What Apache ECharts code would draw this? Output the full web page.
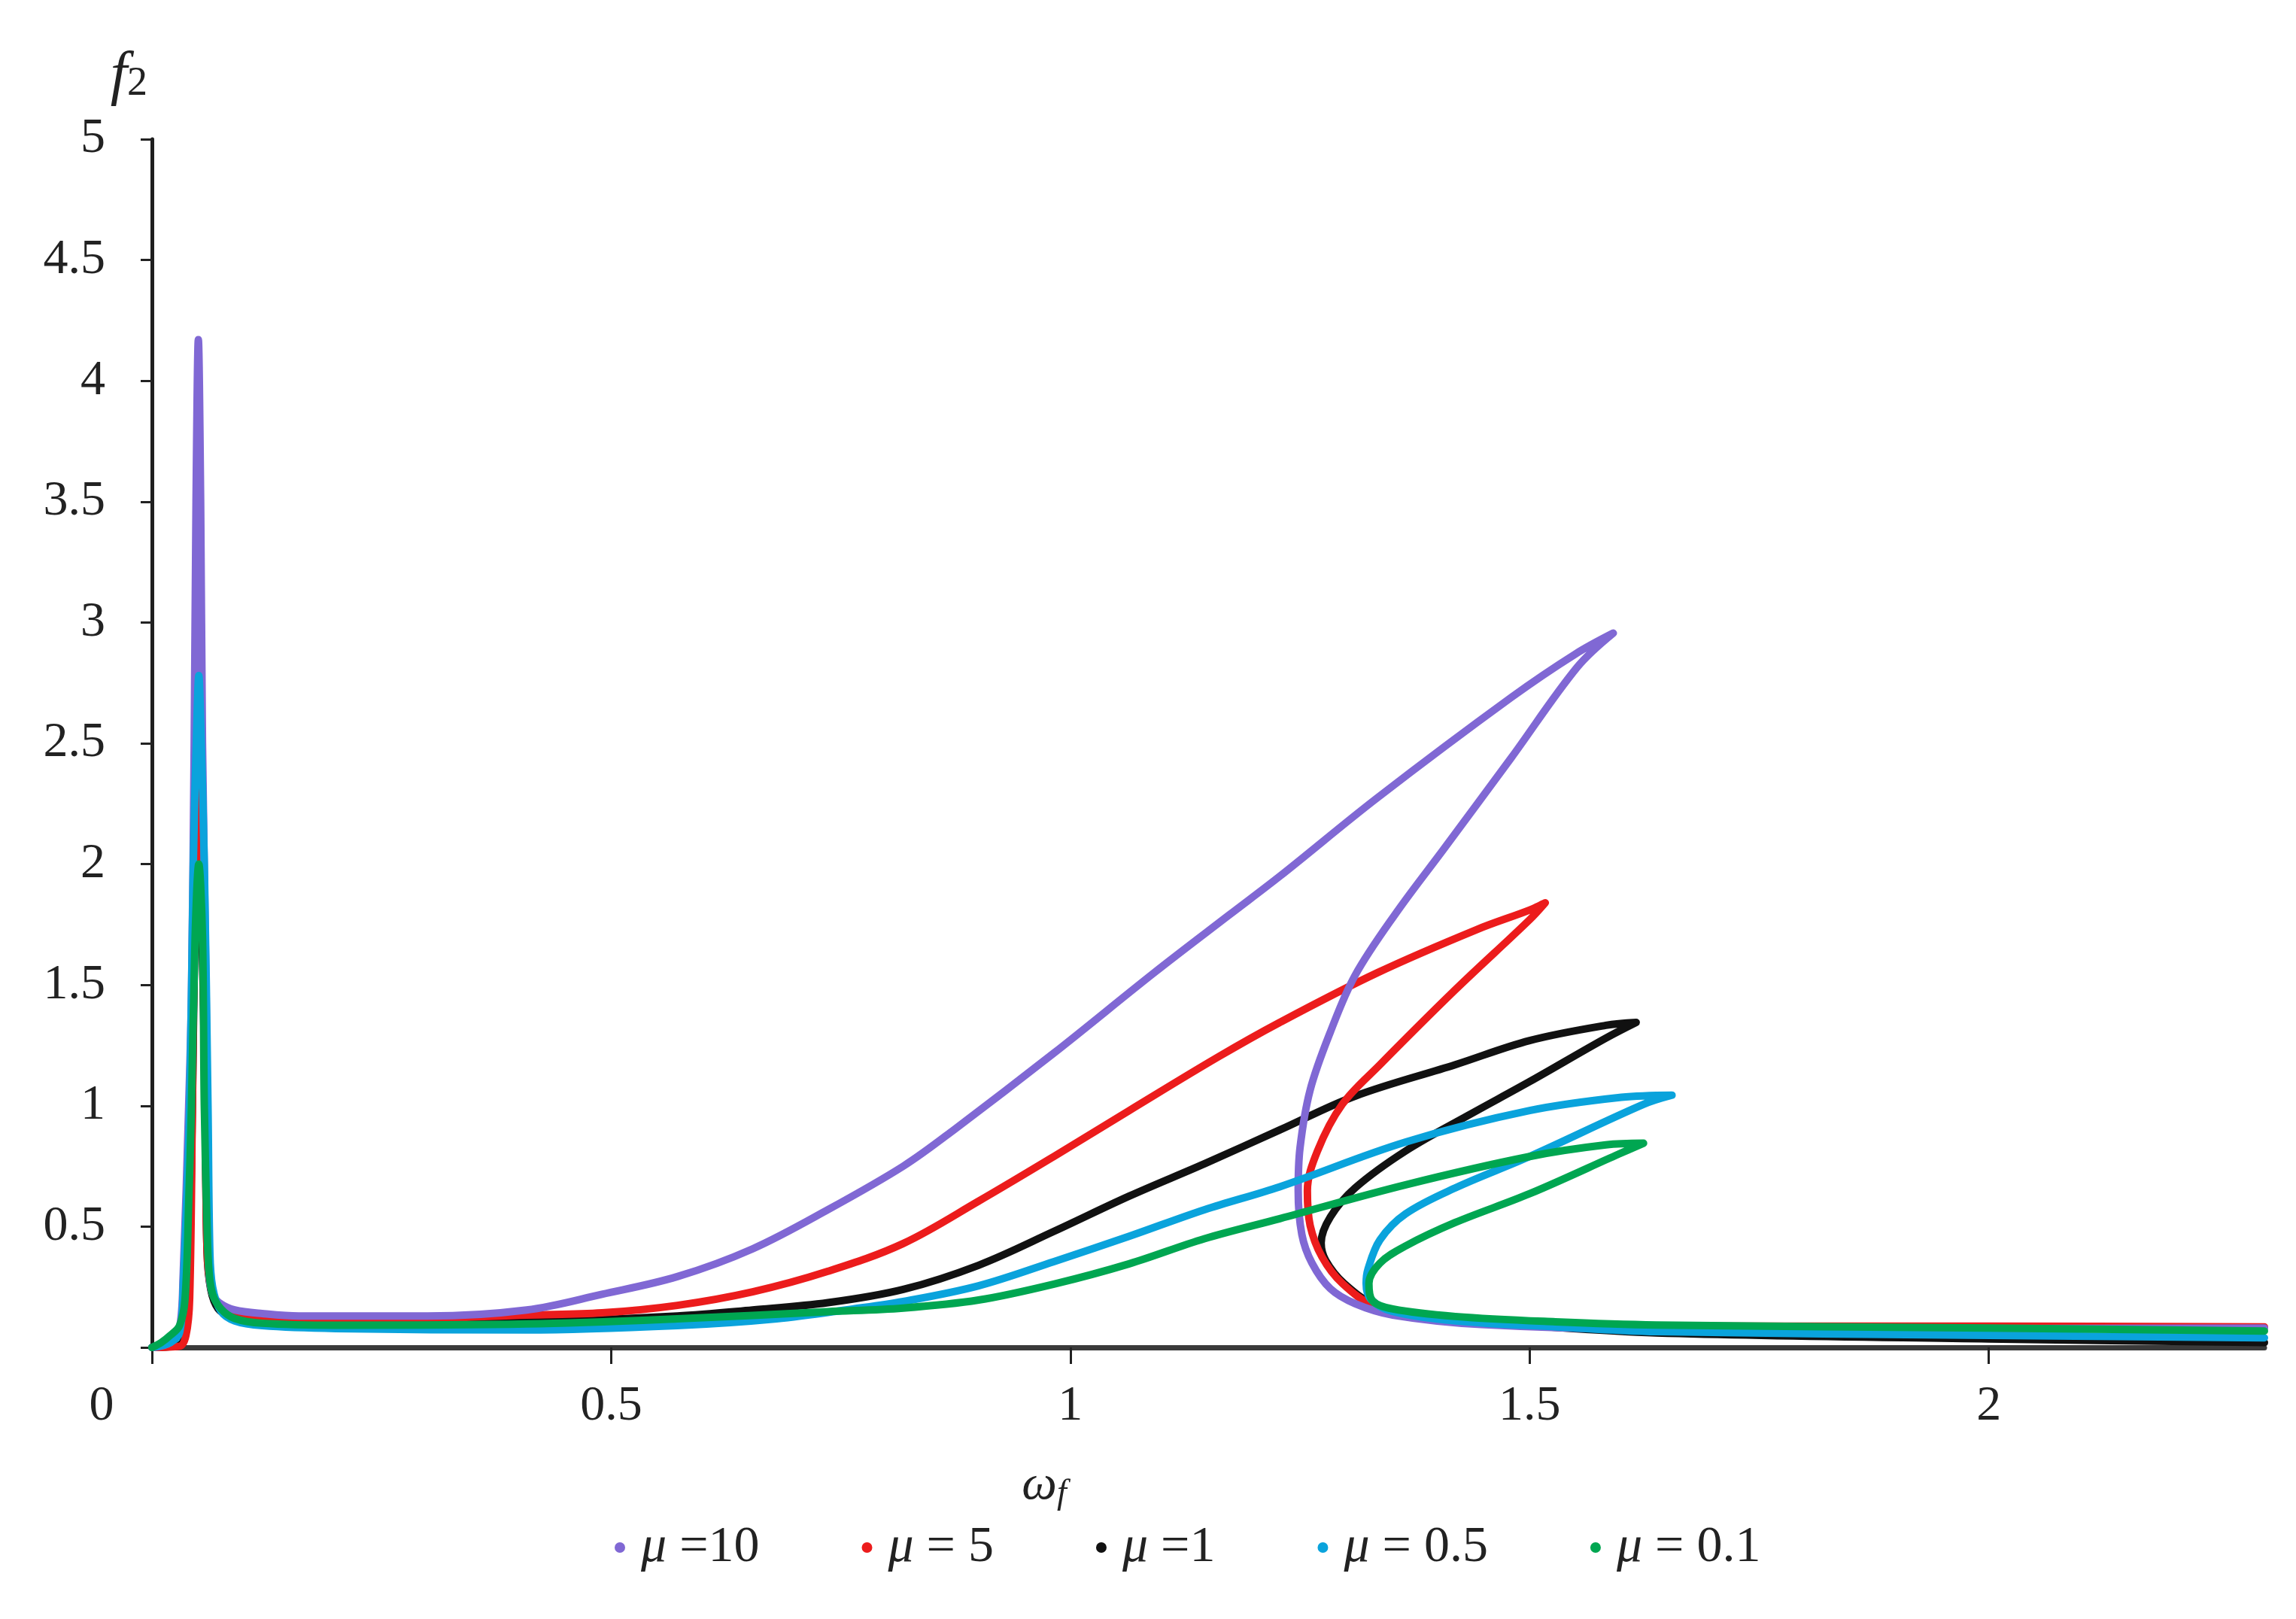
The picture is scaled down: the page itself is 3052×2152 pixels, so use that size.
<!DOCTYPE html>
<html>
<head>
<meta charset="utf-8">
<script src="https://cdn.jsdelivr.net/npm/echarts@6/dist/echarts.min.js"></script>
<style>
html,body{margin:0;padding:0;background:#fff;}
#chart{width:3052px;height:2152px;}
</style>
</head>
<body>
<div id="chart"></div>
<script>
// ---- data (omega_f, f2) ----
const legendNames = ['μ =10', 'μ = 5', 'μ =1', 'μ = 0.5', 'μ = 0.1'];
const xTickValues = [0, 0.5, 1, 1.5, 2];

const mu10 = [[0,0.0],[0.02,0.02],[0.03,0.08],[0.034,0.3],[0.04,1.0],[0.043,1.45],[0.046,2.5],[0.048,3.5],[0.0505,4.17],[0.053,3.5],[0.055,2.5],[0.059,1.45],[0.061,0.6],[0.062,0.32],[0.066,0.22],[0.075,0.18],[0.09,0.155],[0.12,0.14],[0.16,0.13],[0.3,0.13],[0.408,0.155],[0.49,0.22],[0.572,0.293],[0.654,0.408],[0.736,0.57],[0.818,0.75],[0.873,0.9],[0.982,1.218],[1.091,1.55],[1.173,1.79],[1.228,1.95],[1.334,2.274],[1.48,2.69],[1.55,2.87],[1.591,2.956],[1.552,2.816],[1.48,2.44],[1.407,2.065],[1.355,1.80],[1.31,1.54],[1.283,1.305],[1.261,1.065],[1.25,0.826],[1.248,0.648],[1.252,0.467],[1.263,0.349],[1.283,0.243],[1.31,0.181],[1.351,0.134],[1.447,0.095],[1.638,0.075],[2.0,0.078],[2.3,0.08]];

const mu5 = [[0,0.0],[0.03,0.005],[0.037,0.05],[0.041,0.2],[0.044,1.0],[0.047,2.0],[0.0505,2.5],[0.054,2.0],[0.058,1.0],[0.06,0.4],[0.064,0.25],[0.072,0.18],[0.085,0.15],[0.11,0.13],[0.2,0.118],[0.3,0.12],[0.408,0.134],[0.49,0.143],[0.572,0.174],[0.654,0.23],[0.736,0.315],[0.818,0.43],[0.9,0.605],[0.982,0.79],[1.064,0.98],[1.16,1.2],[1.228,1.345],[1.334,1.55],[1.443,1.73],[1.5,1.81],[1.517,1.84],[1.5,1.77],[1.419,1.48],[1.337,1.17],[1.296,1.006],[1.269,0.813],[1.258,0.648],[1.261,0.505],[1.274,0.374],[1.296,0.265],[1.332,0.171],[1.4,0.125],[1.5,0.1],[1.7,0.088],[2.0,0.088],[2.3,0.085]];

const mu1 = [[0,0.0],[0.03,0.01],[0.036,0.06],[0.04,0.25],[0.044,1.0],[0.047,1.8],[0.0505,2.2],[0.054,1.8],[0.058,1.0],[0.06,0.4],[0.064,0.24],[0.072,0.16],[0.085,0.13],[0.11,0.11],[0.2,0.1],[0.4,0.105],[0.572,0.13],[0.654,0.155],[0.736,0.185],[0.818,0.24],[0.9,0.34],[0.982,0.48],[1.064,0.626],[1.146,0.76],[1.228,0.9],[1.31,1.04],[1.419,1.17],[1.5,1.27],[1.583,1.333],[1.616,1.345],[1.583,1.28],[1.5,1.10],[1.433,0.96],[1.365,0.813],[1.31,0.66],[1.283,0.54],[1.273,0.433],[1.278,0.36],[1.298,0.265],[1.334,0.172],[1.4,0.12],[1.5,0.09],[1.638,0.06],[2.0,0.035],[2.3,0.02]];

const mu05 = [[0,0.0],[0.02,0.02],[0.03,0.06],[0.034,0.25],[0.041,1.0],[0.045,2.0],[0.049,2.6],[0.051,2.78],[0.053,2.6],[0.057,2.0],[0.061,1.0],[0.063,0.4],[0.066,0.25],[0.075,0.15],[0.09,0.11],[0.12,0.09],[0.2,0.078],[0.408,0.072],[0.572,0.09],[0.68,0.118],[0.763,0.159],[0.818,0.19],[0.9,0.255],[0.982,0.355],[1.064,0.46],[1.146,0.57],[1.228,0.665],[1.365,0.85],[1.5,0.98],[1.6,1.035],[1.655,1.044],[1.624,1.006],[1.5,0.79],[1.419,0.66],[1.365,0.553],[1.337,0.445],[1.324,0.324],[1.322,0.265],[1.327,0.2],[1.35,0.15],[1.42,0.11],[1.53,0.085],[1.638,0.065],[2.0,0.05],[2.3,0.04]];

const mu01 = [[0,0.0],[0.01,0.02],[0.02,0.05],[0.03,0.09],[0.036,0.2],[0.04,0.6],[0.043,1.0],[0.047,1.7],[0.051,2.0],[0.055,1.7],[0.057,1.0],[0.06,0.5],[0.062,0.32],[0.066,0.22],[0.075,0.16],[0.09,0.12],[0.12,0.1],[0.2,0.092],[0.408,0.097],[0.572,0.118],[0.736,0.148],[0.818,0.163],[0.9,0.196],[0.982,0.262],[1.064,0.346],[1.146,0.45],[1.228,0.533],[1.365,0.673],[1.5,0.79],[1.583,0.838],[1.624,0.845],[1.597,0.80],[1.5,0.636],[1.419,0.517],[1.365,0.42],[1.337,0.349],[1.325,0.265],[1.329,0.193],[1.351,0.159],[1.419,0.128],[1.528,0.106],[1.638,0.093],[2.0,0.08],[2.3,0.068]];

const seriesColors = {
  'μ =10': '#8068D4',
  'μ = 5': '#EC1C1C',
  'μ =1': '#111111',
  'μ = 0.5': '#0AA3DC',
  'μ = 0.1': '#00A651'
};
const seriesData = {
  'μ =10': mu10, 'μ = 5': mu5, 'μ =1': mu1, 'μ = 0.5': mu05, 'μ = 0.1': mu01
};
// drawing order (later on top)
const drawOrder = ['μ =1', 'μ = 5', 'μ =10', 'μ = 0.5', 'μ = 0.1'];

const FONT = '"Liberation Serif", "Times New Roman", serif';

const chart = echarts.init(document.getElementById('chart'), null, {renderer: 'canvas'});
chart.setOption({
  backgroundColor: '#ffffff',
  animation: false,
  grid: {left: 202, right: 42, top: 185, bottom: 361, containLabel: false},
  xAxis: {
    type: 'value', min: 0, max: 2.3, interval: 0.5,
    splitLine: {show: false},
    axisLine: {show: true, onZero: false, lineStyle: {color: '#3a3a3a', width: 7}},
    axisTick: {show: true, customValues: xTickValues, length: 22, lineStyle: {color: '#222', width: 3}},
    axisLabel: {
      show: true, customValues: xTickValues, margin: 46,
      fontFamily: FONT, fontSize: 66, color: '#222',
      formatter: function (v) { return v === 0 ? '{z|0}' : String(v); },
      rich: {z: {fontFamily: FONT, fontSize: 66, color: '#222', padding: [0, 134, 0, 0]}}
    },
    name: '{w|ω}{s|f}',
    nameLocation: 'middle', nameGap: 150,
    nameTextStyle: {
      padding: [0, 436, 0, 0],
      rich: {
        w: {fontFamily: FONT, fontStyle: 'italic', fontSize: 66, color: '#222'},
        s: {fontFamily: FONT, fontStyle: 'italic', fontSize: 46, color: '#222', padding: [22, 0, 0, 0]}
      }
    }
  },
  yAxis: {
    type: 'value', min: 0, max: 5, interval: 0.5,
    splitLine: {show: false},
    axisLine: {show: true, lineStyle: {color: '#1e1e1e', width: 5}},
    axisTick: {show: true, length: 15, lineStyle: {color: '#222', width: 3}},
    axisLabel: {
      show: true, margin: 62, fontFamily: FONT, fontSize: 66, color: '#222',
      formatter: function (v) { return v === 0 ? '' : String(v); }
    },
    name: '{f|f}{s|2}',
    nameLocation: 'end', nameGap: 42,
    nameTextStyle: {
      align: 'right', padding: [0, 6, 0, 0],
      rich: {
        f: {fontFamily: FONT, fontStyle: 'italic', fontSize: 80, color: '#222'},
        s: {fontFamily: FONT, fontSize: 54, color: '#222', padding: [18, 0, 0, 0]}
      }
    }
  },
  legend: {
    data: legendNames,
    left: 812, top: 2018,
    icon: 'circle', itemWidth: 14, itemHeight: 14, itemGap: 136,
    formatter: function (n) { return '{m|μ}{t|' + n.slice(1) + '}'; },
    textStyle: {
      fontFamily: FONT, fontSize: 68, color: '#222',
      rich: {
        m: {fontFamily: FONT, fontStyle: 'italic', fontSize: 68, color: '#222', padding: [0, 0, 0, 16]},
        t: {fontFamily: FONT, fontSize: 68, color: '#222'}
      }
    }
  },
  series: drawOrder.map(function (name) {
    return {
      name: name, type: 'line', data: seriesData[name],
      showSymbol: false, symbol: 'none', smooth: 0.35,
      lineStyle: {color: seriesColors[name], width: 10, join: 'round', cap: 'round'},
      itemStyle: {color: seriesColors[name]},
      z: 2
    };
  })
});
</script>
</body>
</html>
